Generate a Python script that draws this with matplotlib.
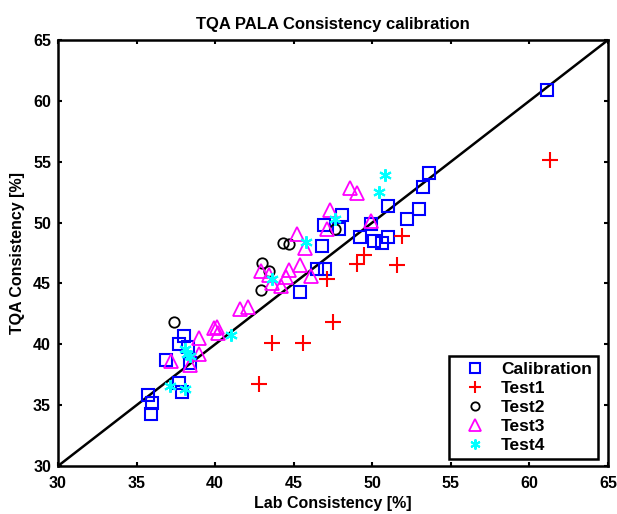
import matplotlib
matplotlib.use("Agg")
import matplotlib.pyplot as plt

plt.rcParams['font.family'] = ['Liberation Sans', 'DejaVu Sans']
plt.rcParams['font.weight'] = 'bold'

cal_x = [35.9, 36.0, 35.7, 37.9, 37.7, 36.9, 38.4, 38.3, 37.7, 38.0, 45.4, 46.5, 47.0, 46.8,
         46.9, 47.85, 48.1, 49.2, 49.9, 50.1, 50.6, 51.0, 51.0, 52.2, 53.0, 53.2, 53.6, 61.1]
cal_y = [34.3, 35.2, 35.8, 36.1, 36.8, 38.7, 38.5, 39.8, 40.0, 40.7, 44.3, 46.2, 46.2, 48.1,
         49.8, 49.5, 50.6, 48.8, 49.9, 48.5, 48.3, 48.8, 51.4, 50.3, 51.1, 52.9, 54.1, 60.9]

t1_x = [42.8, 43.6, 45.6, 47.5, 47.1, 49.0, 49.5, 51.6, 51.9, 61.3]
t1_y = [36.7, 40.1, 40.1, 41.8, 45.4, 46.6, 47.3, 46.5, 48.9, 55.1]

t2_x = [37.4, 42.9, 43.4, 43.0, 44.3, 44.7, 47.6]
t2_y = [41.8, 44.5, 46.0, 46.7, 48.3, 48.2, 49.5]

t3_x = [37.2, 38.4, 39.0, 39.0, 39.9, 40.1, 40.2, 41.6, 42.1, 42.9, 43.4, 43.6, 44.2, 44.5,
        44.7, 45.4, 46.1, 45.7, 45.2, 47.1, 47.3, 48.6, 49.0, 49.9]
t3_y = [38.6, 38.3, 39.2, 40.5, 41.3, 41.4, 40.9, 42.9, 43.1, 46.0, 45.7, 45.0, 44.8, 45.5,
        46.1, 46.5, 45.6, 47.9, 49.1, 49.5, 51.0, 52.8, 52.4, 50.1]

t4_x = [37.1, 38.1, 38.1, 38.2, 38.4, 41.0, 43.6, 45.8, 47.6, 50.4, 50.8]
t4_y = [36.6, 36.3, 39.6, 39.2, 39.0, 40.8, 45.4, 48.4, 50.3, 52.5, 53.9]

ticks = [30, 35, 40, 45, 50, 55, 60, 65]

fig = plt.figure(figsize=(6.17, 5.14), dpi=100)
ax = fig.add_axes([58/617, 1 - 466/514, 550/617, 426/514])

ax.plot([30, 65], [30, 65], color='black', lw=1.8, zorder=1)
ax.plot(cal_x, cal_y, ls='none', marker='s', ms=9, mfc='none', mec='#0000ff', mew=1.5, label='Calibration')
ax.plot(t1_x, t1_y, ls='none', marker='+', ms=11, mec='#ff0000', mew=1.5, label='Test1')
ax.plot(t2_x, t2_y, ls='none', marker='o', ms=7.5, mfc='none', mec='black', mew=1.3, label='Test2')
ax.plot(t3_x, t3_y, ls='none', marker='^', ms=10, mfc='none', mec='#ff00ff', mew=1.3, label='Test3')
ax.plot(t4_x, t4_y, ls='none', marker=(6, 2, 0), ms=9, mec='#00ffff', mew=1.5, label='Test4')

ax.set_xlim(30, 65)
ax.set_ylim(30, 65)
ax.set_xticks(ticks)
ax.set_yticks(ticks)
ax.tick_params(direction='in', length=3, width=1.5, top=True, right=True, labelsize=11.5)
ax.tick_params(axis='x', pad=7)
ax.tick_params(axis='y', pad=5)
for lab in ax.get_xticklabels() + ax.get_yticklabels():
    lab.set_fontweight('bold')
for sp in ax.spines.values():
    sp.set_linewidth(1.8)

ax.set_title('TQA PALA Consistency calibration', fontsize=12, fontweight='bold', pad=8)
ax.set_xlabel('Lab Consistency [%]', fontsize=11.5, fontweight='bold', labelpad=4)
ax.set_ylabel('TQA Consistency [%]', fontsize=11.5, fontweight='bold', labelpad=6)

leg = ax.legend(loc='lower right', bbox_to_anchor=(1 - 10/550, 7/426), borderaxespad=0,
                fancybox=False, framealpha=1, edgecolor='black',
                prop={'weight': 'bold', 'size': 12.5}, handlelength=2.3,
                markerscale=0.8, borderpad=0.35, labelspacing=0.22, handletextpad=0.35)
leg.get_frame().set_linewidth(1.8)

fig.savefig('out.png', dpi=100)
